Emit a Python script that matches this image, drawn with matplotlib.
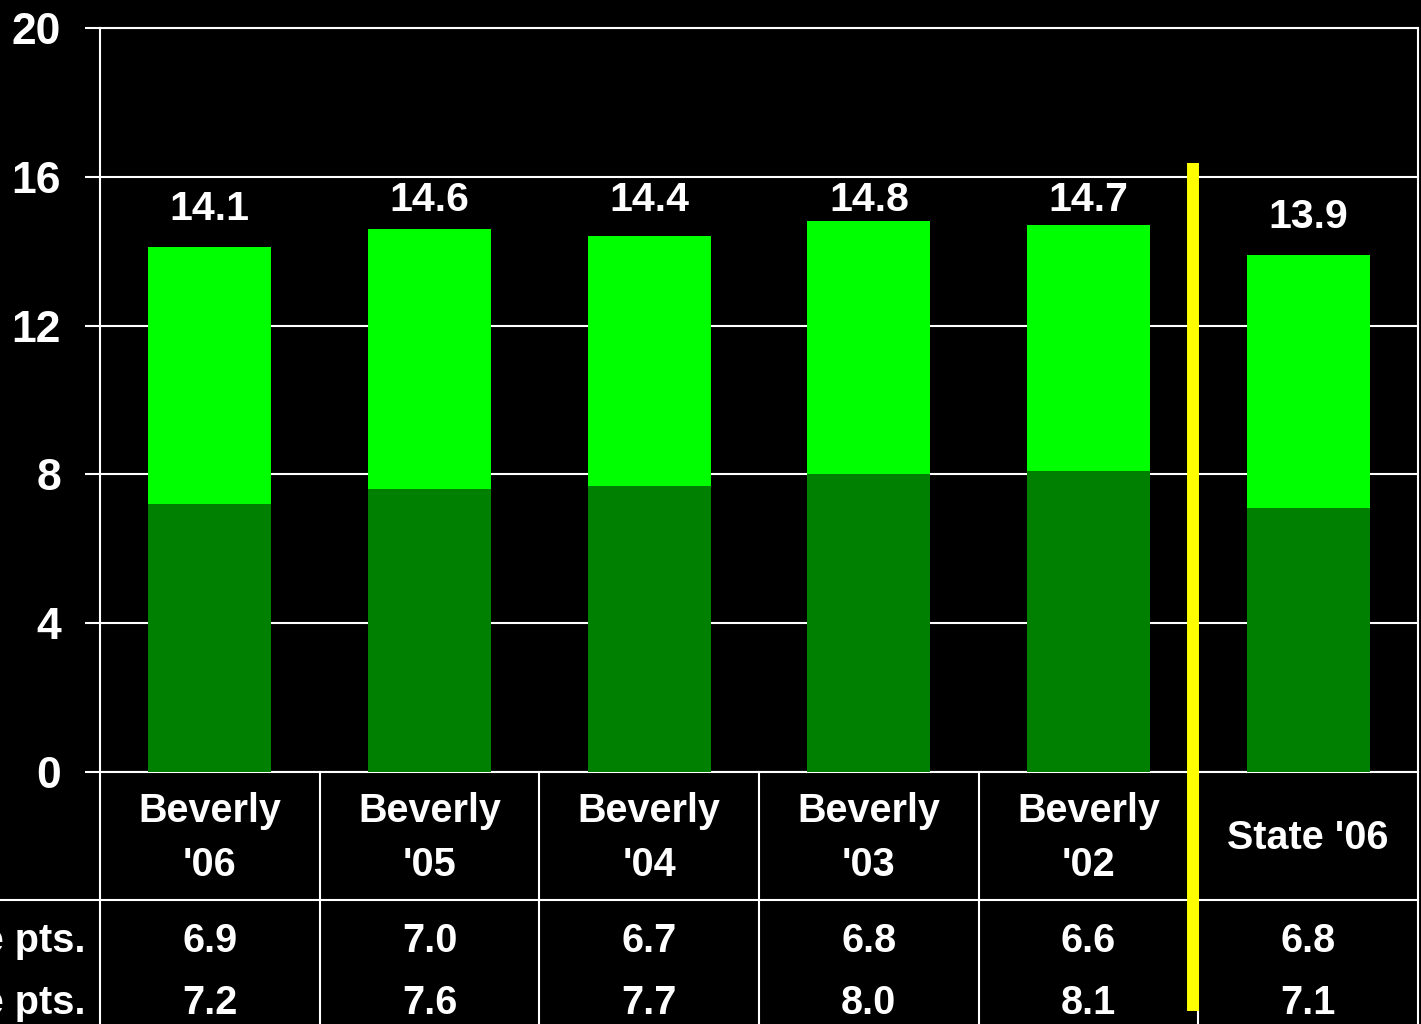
#!/usr/bin/env python3
"""Stacked points chart: Beverly vs State, black slide style."""

import matplotlib
matplotlib.use("Agg")
import matplotlib.pyplot as plt

categories = ["Beverly\n'06", "Beverly\n'05", "Beverly\n'04", "Beverly\n'03", "Beverly\n'02", "State '06"]
row_labels = ["Multiple-choice pts.", "Open-response pts."]
top_pts = [6.9, 7.0, 6.7, 6.8, 6.6, 6.8]
bottom_pts = [7.2, 7.6, 7.7, 8.0, 8.1, 7.1]
totals = [14.1, 14.6, 14.4, 14.8, 14.7, 13.9]
yticks = [0, 4, 8, 12, 16, 20]

DARK = "#008000"
BRIGHT = "#00FF00"
FONT = "Liberation Sans"

plt.rcParams["font.family"] = [FONT, "DejaVu Sans"]
plt.rcParams["font.weight"] = "bold"

fig = plt.figure(figsize=(14.21, 10.24), dpi=100, facecolor="black")
ax = fig.add_axes([100 / 1421, 1 - 772 / 1024, 1318 / 1421, 744 / 1024])
ax.set_facecolor("black")

x = list(range(len(categories)))
ax.bar(x, bottom_pts, width=0.56, color=DARK, zorder=3)
ax.bar(x, top_pts, width=0.56, bottom=bottom_pts, color=BRIGHT, zorder=3)

for xi, t in zip(x, totals):
    ax.text(xi, min(t + 1.03, 15.38), f"{t:.1f}", ha="center", va="center",
            color="white", fontsize=29.5, fontweight="bold")

ax.set_xlim(-0.5, 5.5)
ax.set_ylim(0, 20)
ax.set_yticks(yticks)
ax.set_xticks([])
ax.yaxis.grid(True, color="white", linewidth=1.5, zorder=1)
ax.tick_params(axis="y", colors="white", length=11, width=1.5, pad=17, labelsize=32)
for lab in ax.get_yticklabels():
    lab.set_fontweight("bold")
for side in ["left", "right", "top", "bottom"]:
    ax.spines[side].set_color("white")
    ax.spines[side].set_linewidth(1.5)

# data table under the axis
px = 20 / 744  # data units per pixel on y
y_row_line = -(900 - 772) * px
y_bottom = -(1030 - 772) * px
line_kw = dict(color="white", linewidth=1.5, clip_on=False, zorder=2)
for b in range(len(categories) + 1):
    ax.plot([b - 0.5, b - 0.5], [0, y_bottom], **line_kw)
ax.plot([-0.5 - 100 / 219.7, 5.5], [y_row_line, y_row_line], **line_kw)

for xi, cat in zip(x, categories):
    ax.text(xi, -(838 - 772) * px, cat, ha="center", va="center", color="white",
            fontsize=28.5, fontweight="bold", linespacing=1.5, clip_on=False)

for row, (label, vals) in enumerate(zip(row_labels, [top_pts, bottom_pts])):
    yy = -((941 if row == 0 else 1003) - 772) * px
    ax.text(-0.5 - 15 / 219.7, yy, label, ha="right", va="center", color="white",
            fontsize=28.5, fontweight="bold", clip_on=False)
    for xi, v in zip(x, vals):
        ax.text(xi, yy, f"{v:.1f}", ha="center", va="center", color="white",
                fontsize=28.5, fontweight="bold", clip_on=False)

# yellow divider between Beverly and State
ax.plot([4.475, 4.475], [(772 - 163) * px, -(1011 - 772) * px], color="#FFFF00",
        linewidth=8.6, solid_capstyle="butt", clip_on=False, zorder=5)

fig.savefig("out.png", dpi=100, facecolor="black")
